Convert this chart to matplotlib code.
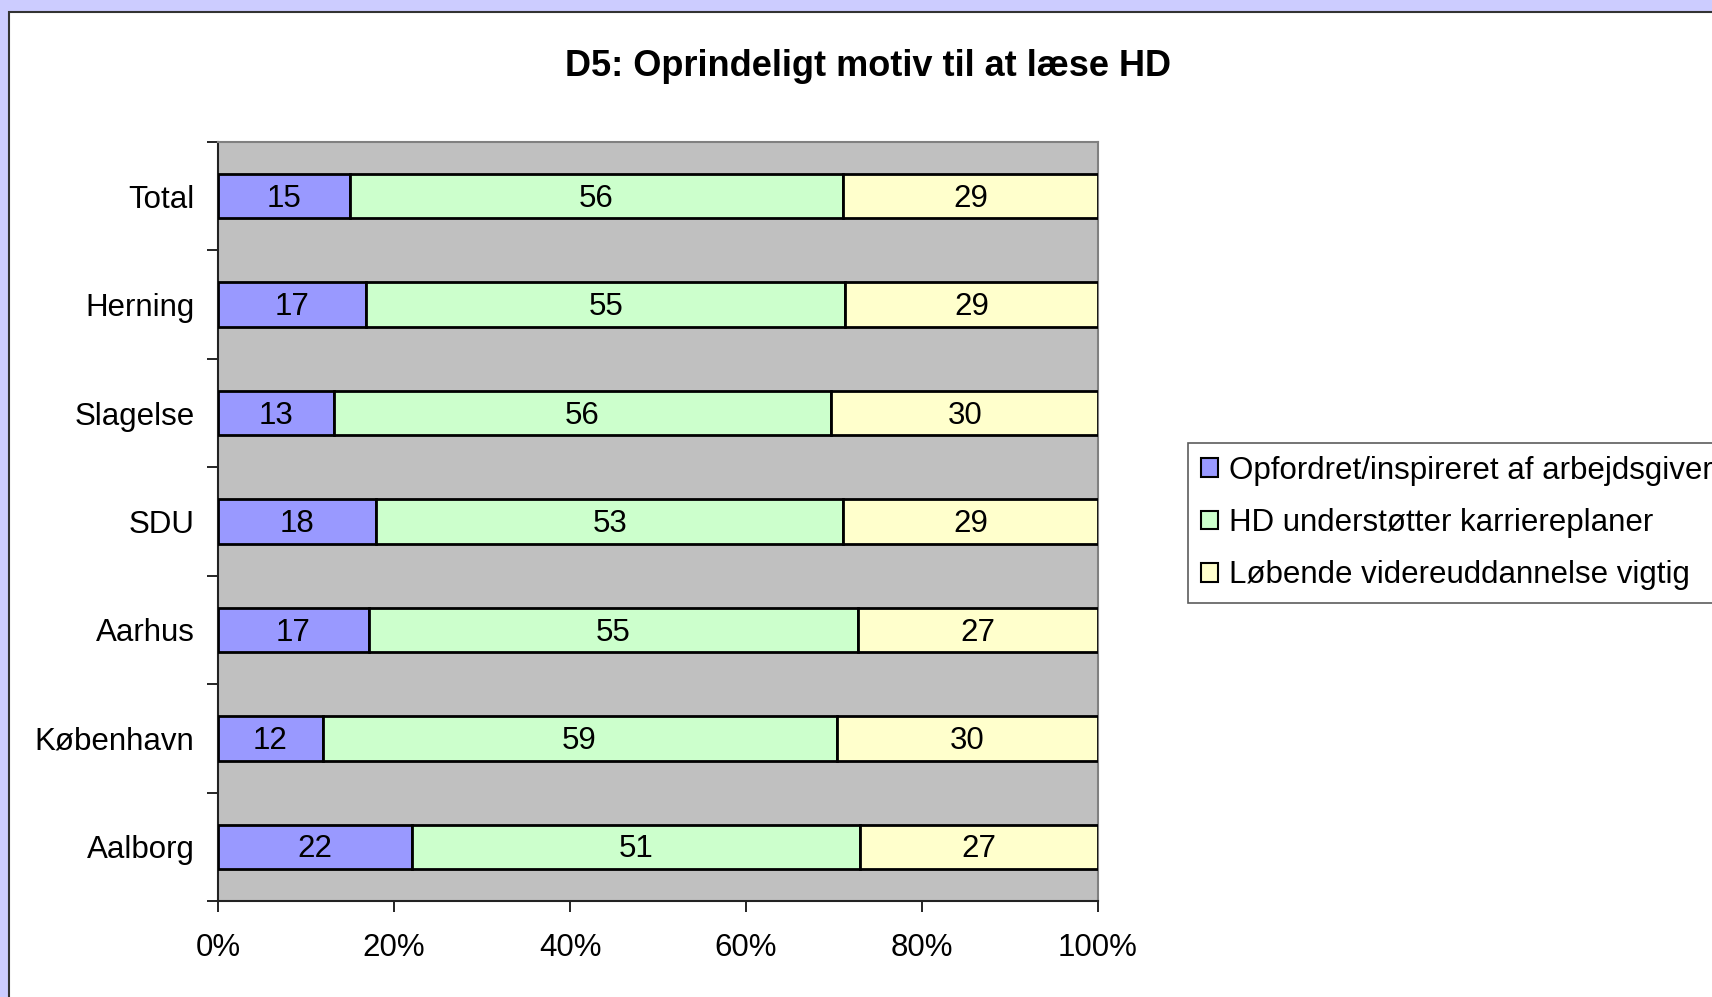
import matplotlib
matplotlib.use("Agg")
import matplotlib.pyplot as plt
from matplotlib.patches import Rectangle, Patch
import numpy as np

plt.rcParams['font.family'] = ['Liberation Sans', 'DejaVu Sans']

categories = ["Total", "Herning", "Slagelse", "SDU", "Aarhus", "København", "Aalborg"]
series_names = ["Opfordret/inspireret af arbejdsgiver",
                "HD understøtter karriereplaner",
                "Løbende videreuddannelse vigtig"]
opfordret = [15, 17, 13, 18, 17, 12, 22]
karriere = [56, 55, 56, 53, 55, 59, 51]
videre = [29, 29, 30, 29, 27, 30, 27]
x_ticks = [0, 20, 40, 60, 80, 100]
x_labels = ["0%", "20%", "40%", "60%", "80%", "100%"]
title = "D5: Oprindeligt motiv til at læse HD"

colors = ["#9999FF", "#CCFFCC", "#FFFFCC"]
FS = 22.5

W, H = 1712, 997
fig = plt.figure(figsize=(W / 100, H / 100), dpi=100)
fig.patch.set_facecolor("#CCCCFF")

# inner white panel
panel = Rectangle((9 / W, -0.1), 1.2, 1.1 - 12 / H, transform=fig.transFigure,
                  facecolor="white", edgecolor="#333333", linewidth=1.5, zorder=-10)
fig.patches.append(panel)

ax = fig.add_axes([218 / W, 1 - 901 / H, 880 / W, 759 / H])
ax.set_facecolor("#C0C0C0")

data = np.array([opfordret, karriere, videre], dtype=float)
totals = data.sum(axis=0)
pct = data / totals * 100
ypos = np.arange(len(categories))

left = np.zeros(len(categories))
for i in range(3):
    ax.barh(ypos, pct[i], left=left, height=0.41, color=colors[i],
            edgecolor="black", linewidth=2, label=series_names[i], zorder=3)
    for j in range(len(categories)):
        ax.text(left[j] + pct[i][j] / 2, ypos[j] + 0.025, str(int(data[i][j])),
                ha="center", va="center", fontsize=FS, color="black", zorder=4)
    left += pct[i]

ax.set_xlim(0, 100)
ax.set_ylim(len(categories) - 0.5, -0.5)

ax.set_xticks(x_ticks)
ax.set_xticklabels(x_labels, fontsize=FS)
ax.tick_params(axis="x", direction="out", length=8, width=1.2, pad=15, colors="black")

ax.set_yticks(np.arange(-0.5, len(categories), 1.0))
ax.set_yticklabels([])
ax.set_yticks(ypos, minor=True)
ax.set_yticklabels(categories, minor=True, fontsize=FS)
ax.tick_params(axis="y", which="major", direction="out", length=8, width=1.2)
ax.tick_params(axis="y", which="minor", length=0, pad=17)

for s in ["left", "bottom"]:
    ax.spines[s].set_color("#222222")
    ax.spines[s].set_linewidth(1.5)
for s in ["top", "right"]:
    ax.spines[s].set_color("#808080")
    ax.spines[s].set_linewidth(1.5)

fig.text(868 / W, 1 - 66 / H, title, ha="center", va="center",
         fontsize=26, fontweight="bold")

handles = [Patch(facecolor=colors[i], edgecolor="black", linewidth=1.5) for i in range(3)]
leg = fig.legend(handles, series_names, loc="upper left",
                 bbox_to_anchor=(1188 / W, 1 - 443 / H), fontsize=FS,
                 frameon=True, fancybox=False, edgecolor="#333333",
                 handlelength=0.55, handleheight=0.55, handletextpad=0.35,
                 labelspacing=0.72, borderpad=0.4, borderaxespad=0)
leg.get_frame().set_linewidth(1.2)

fig.savefig("out.png", dpi=100, facecolor=fig.get_facecolor())
